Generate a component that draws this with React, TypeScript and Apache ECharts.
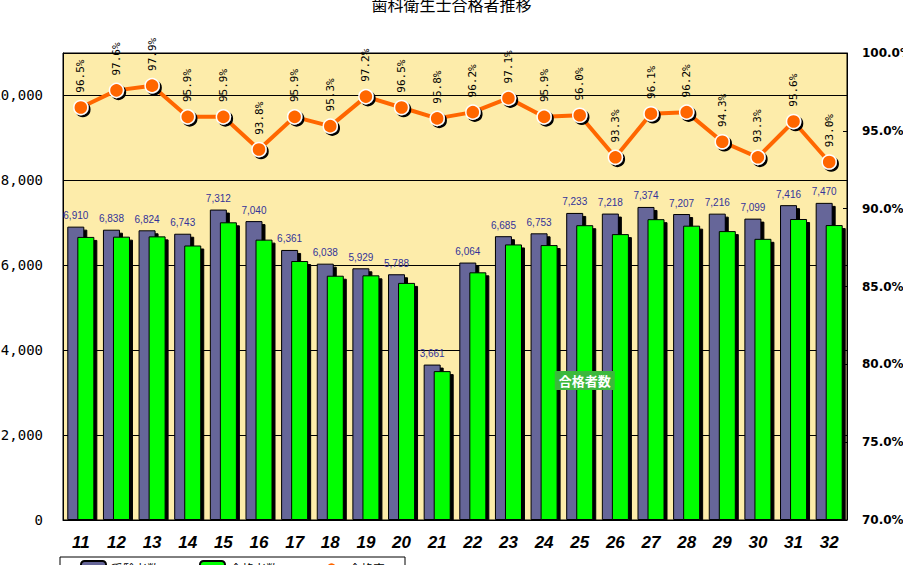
import React, { useEffect, useRef } from "react";
import * as echarts from "echarts";

const categories = ["11","12","13","14","15","16","17","18","19","20","21","22","23","24","25","26","27","28","29","30","31","32"];
const examinees = [6910,6838,6824,6743,7312,7040,6361,6038,5929,5788,3661,6064,6685,6753,7233,7218,7374,7207,7216,7099,7416,7470];
const passers = [6668,6674,6681,6466,7012,6604,6100,5754,5763,5585,3507,5834,6491,6476,6944,6734,7086,6933,6805,6623,7090,6947];
const passRates = [96.5,97.6,97.9,95.9,95.9,93.8,95.9,95.3,97.2,96.5,95.8,96.2,97.1,95.9,96.0,93.3,96.1,96.2,94.3,93.3,95.6,93.0];
const seriesNames = ["受験者数", "合格者数", "合格率"];
const labelledPassIndex = 14;

export default function App() {
  const ref = useRef<HTMLDivElement>(null);
  useEffect(() => {
    const chart = echarts.init(ref.current!, undefined, { renderer: "svg" });
    const barShadow = { shadowColor: "#000", shadowOffsetX: 3, shadowOffsetY: 3, shadowBlur: 0 };
    chart.setOption({
      animation: false,
      title: {
        text: "歯科衛生士合格者推移",
        left: "center",
        top: -9,
        textStyle: { fontSize: 16, fontWeight: "normal", color: "#000", fontFamily: "Noto Sans CJK JP" },
      },
      legend: {
        data: seriesNames,
        left: 60,
        top: 557,
        borderColor: "#000",
        borderWidth: 1,
        padding: [3, 20],
        itemGap: 40,
        textStyle: { fontSize: 12, color: "#000", fontFamily: "Noto Sans CJK JP" },
      },
      grid: {
        left: 63,
        right: 56,
        top: 53,
        bottom: 45,
        show: true,
        backgroundColor: "#fdecaa",
        borderColor: "#000",
        borderWidth: 1,
        outerBoundsMode: "none",
        containLabel: false,
      },
      graphic: [
        { type: "rect", left: 60, top: 521, shape: { width: 800, height: 5 }, style: { fill: "#fff" }, z: 100 },
      ],
      xAxis: {
        type: "category",
        data: categories,
        axisLine: { lineStyle: { color: "#000", width: 1 } },
        axisTick: { inside: true, length: 4, lineStyle: { color: "#000" } },
        axisLabel: {
          margin: 14,
          fontSize: 17,
          fontWeight: "bold",
          fontStyle: "italic",
          color: "#000",
          fontFamily: "Liberation Sans",
          textShadowColor: "#ff9900",
          textShadowOffsetX: 1,
          textShadowOffsetY: 1,
          textShadowBlur: 0,
        },
      },
      yAxis: [
        {
          type: "value",
          min: 0,
          max: 11000,
          interval: 2000,
          axisLine: { show: true, lineStyle: { color: "#000" } },
          axisTick: { show: false },
          splitLine: { show: true, lineStyle: { color: "#000", width: 1 } },
          axisLabel: {
            showMaxLabel: false,
            margin: 20,
            fontSize: 14,
            color: "#000",
            fontFamily: "DejaVu Sans Mono",
            formatter: (v: number) => (v === 11000 ? "" : v.toLocaleString("en-US")),
          },
        },
        {
          type: "value",
          min: 70,
          max: 100,
          interval: 5,
          axisLine: { show: true, lineStyle: { color: "#000" } },
          axisTick: { show: true, inside: true, length: 4, lineStyle: { color: "#000" } },
          splitLine: { show: false },
          axisLabel: {
            margin: 15,
            fontSize: 12,
            fontWeight: "bold",
            color: "#000",
            fontFamily: "DejaVu Sans",
            formatter: (v: number) => v.toFixed(1) + "%",
          },
        },
      ],
      series: [
        {
          name: seriesNames[0],
          type: "bar",
          data: examinees,
          barWidth: 17,
          barGap: "-41%",
          itemStyle: { color: "#666699", borderColor: "#000", borderWidth: 1, ...barShadow },
          label: {
            show: true,
            position: "top",
            distance: 6,
            fontSize: 10,
            color: "#333399",
            fontFamily: "Liberation Sans",
            formatter: (p: any) => Number(p.value).toLocaleString("en-US"),
          },
          z: 2,
        },
        {
          name: seriesNames[1],
          type: "bar",
          data: passers.map((v, i) =>
            i === labelledPassIndex
              ? {
                  value: v,
                  label: {
                    show: true,
                    position: "inside",
                    offset: [0, 8],
                    formatter: "{a}",
                    color: "#fff",
                    fontWeight: "bold",
                    fontSize: 13,
                    fontFamily: "Noto Sans CJK JP",
                    backgroundColor: "#3cb83c",
                    padding: [3, 4],
                  },
                }
              : v
          ),
          barWidth: 17,
          itemStyle: { color: "#00ff00", borderColor: "#000", borderWidth: 1, ...barShadow },
          z: 3,
        },
        {
          name: seriesNames[2],
          type: "line",
          yAxisIndex: 1,
          data: passRates,
          symbol: "circle",
          symbolSize: 14,
          lineStyle: { color: "#ff6600", width: 4 },
          itemStyle: {
            color: "#ff6600",
            borderColor: "#fff",
            borderWidth: 1.5,
            shadowColor: "#000",
            shadowOffsetX: 2,
            shadowOffsetY: 2,
            shadowBlur: 0,
          },
          label: {
            show: true,
            position: "top",
            distance: 7,
            rotate: 90,
            align: "left",
            verticalAlign: "middle",
            fontSize: 11,
            color: "#000",
            fontFamily: "DejaVu Sans Mono",
            formatter: (p: any) => Number(p.value).toFixed(1) + "%",
          },
          z: 5,
        },
      ],
    });
    return () => chart.dispose();
  }, []);
  return <div ref={ref} style={{ width: 903, height: 565, position: "absolute", left: 0, top: 0 }} />;
}
